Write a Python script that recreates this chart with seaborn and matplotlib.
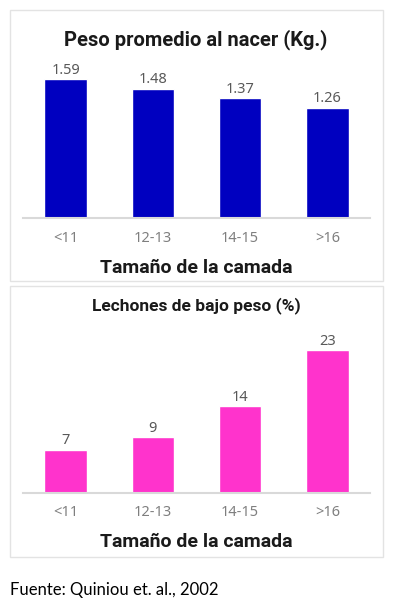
import numpy as np
import pandas as pd
import matplotlib
matplotlib.use("Agg")
import matplotlib.pyplot as plt
from matplotlib.patches import Rectangle
import seaborn as sns

# datos
camada = ["<11", "12-13", "14-15", ">16"]
peso_kg = [1.59, 1.48, 1.37, 1.26]
bajo_peso_pct = [7, 9, 14, 23]

W, H = 394, 610
sns.set_style("white")
plt.rcParams["font.family"] = ["Noto Sans", "DejaVu Sans"]
BOLD = ["Roboto", "DejaVu Sans"]

fig = plt.figure(figsize=(W / 100, H / 100), dpi=100)


def px_axes(x0, y0, x1, y1):
    """ejes en coordenadas de pixel (y hacia abajo)"""
    return fig.add_axes([x0 / W, 1 - y1 / H, (x1 - x0) / W, (y1 - y0) / H])


def panel(y0, y1):
    fig.patches.append(Rectangle((10 / W, 1 - y1 / H), 373 / W, (y1 - y0) / H,
                                 transform=fig.transFigure, fill=False,
                                 edgecolor="#e3e3e3", linewidth=1.0))


def bar_panel(ax, vals, color, ymax, fmt):
    df = pd.DataFrame({"camada": camada, "valor": vals})
    sns.barplot(data=df, x="camada", y="valor", color=color, width=0.49,
                saturation=1, ax=ax)
    ax.set_xlim(-0.49, 3.49)
    ax.set_ylim(0, ymax)
    ax.bar_label(ax.containers[0], fmt=fmt, padding=1, fontsize=10.5,
                 color="#595959")
    for s in ["top", "left", "right"]:
        ax.spines[s].set_visible(False)
    ax.spines["bottom"].set_color("#d9d9d9")
    ax.spines["bottom"].set_linewidth(1.5)
    ax.set_yticks([])
    ax.set_xlabel("")
    ax.set_ylabel("")
    ax.tick_params(axis="x", length=0, pad=9, labelsize=10.5, labelcolor="#7f7f7f")
    ax.patch.set_alpha(0)


def titulo(y, texto, size=14):
    fig.text(196 / W, 1 - y / H, texto, ha="center", va="center",
             fontsize=size, fontweight="bold", color="#1a1a1a", family=BOLD)


# panel superior
panel(10, 281)
ax1 = px_axes(23, 58, 370, 218)
bar_panel(ax1, peso_kg, "#0000C0", 160 / 87.4, "%.2f")
titulo(40, "Peso promedio al nacer (Kg.)", 14.5)
titulo(268, "Tamaño de la camada")

# panel inferior
panel(286, 557)
ax2 = px_axes(23, 330, 370, 493)
bar_panel(ax2, bajo_peso_pct, "#FF33CC", 163 / 6.2, "%d")
titulo(306, "Lechones de bajo peso (%)", 12.5)
titulo(542, "Tamaño de la camada")

fig.text(10 / W, 1 - 590 / H, "Fuente: Quiniou et. al., 2002", ha="left",
         va="center", fontsize=12, color="#000000", family=["Lato", "DejaVu Sans"])

fig.savefig("out.png", dpi=100)
